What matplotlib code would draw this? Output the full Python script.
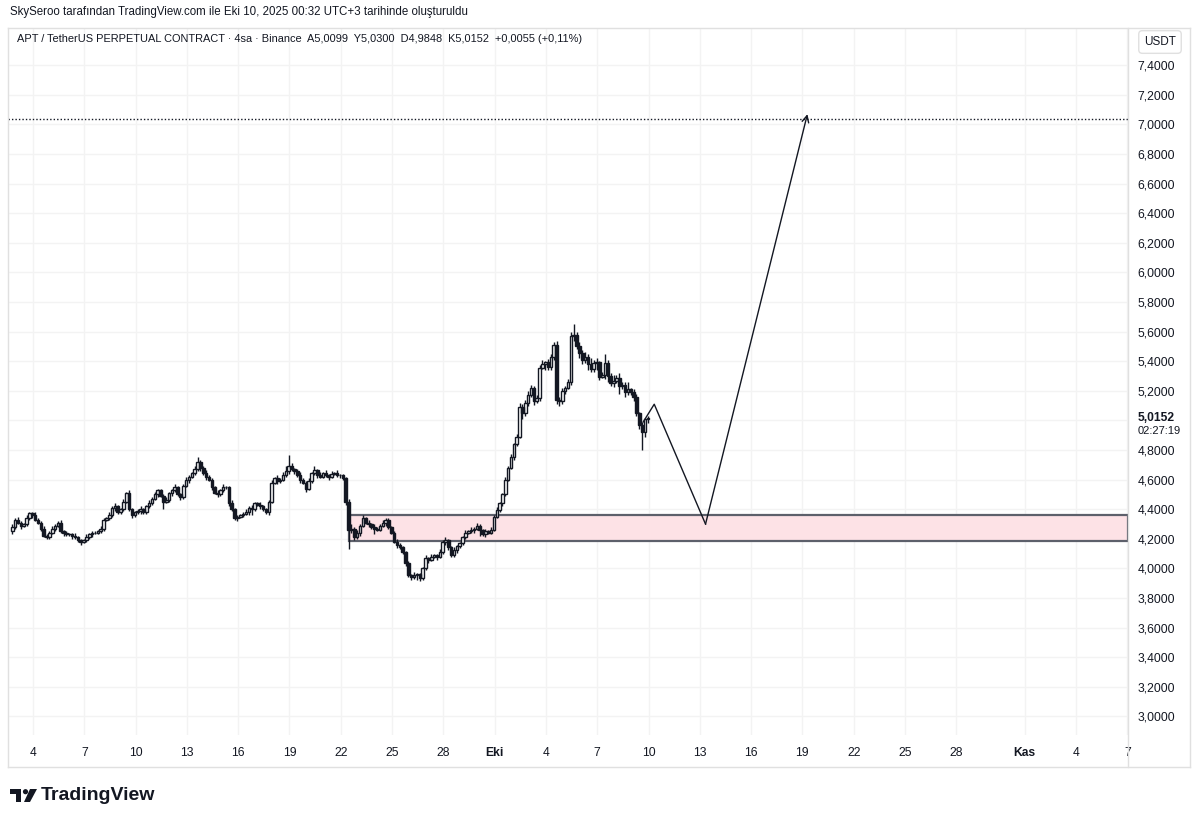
import numpy as np
import pandas as pd
import matplotlib
matplotlib.use("Agg")
import matplotlib.pyplot as plt
import matplotlib.dates as mdates
from matplotlib.patches import Rectangle, Circle, Polygon

plt.rcParams["font.family"] = ["Liberation Sans", "DejaVu Sans"]

# APT/USDT perp, 4sa mumlar (UTC+3 acilis saatleri)
start = "2025-09-02 19:00"
first_open = 4.25
closes = [
    4.28, 4.33, 4.31, 4.29, 4.30, 4.34, 4.375, 4.36, 4.33, 4.31,
    4.27, 4.22, 4.21, 4.24, 4.27, 4.29, 4.31, 4.25, 4.24, 4.23,
    4.23, 4.22, 4.21, 4.19, 4.18, 4.19, 4.21, 4.23, 4.24, 4.24,
    4.25, 4.27, 4.33, 4.34, 4.36, 4.41, 4.42, 4.38, 4.40, 4.45,
    4.51, 4.40, 4.36, 4.38, 4.39, 4.40, 4.38, 4.42, 4.44, 4.47,
    4.50, 4.53, 4.49, 4.45, 4.46, 4.51, 4.53, 4.55, 4.50, 4.48,
    4.56, 4.60, 4.62, 4.645, 4.67, 4.72, 4.68, 4.645, 4.62, 4.60,
    4.55, 4.51, 4.50, 4.53, 4.55, 4.55, 4.44, 4.40, 4.34, 4.35,
    4.36, 4.37, 4.38, 4.41, 4.40, 4.44, 4.43, 4.42, 4.40, 4.38,
    4.45, 4.58, 4.61, 4.59, 4.60, 4.63, 4.66, 4.69, 4.67, 4.66,
    4.63, 4.60, 4.58, 4.54, 4.59, 4.645, 4.665, 4.63, 4.62, 4.645,
    4.63, 4.62, 4.64, 4.645, 4.63, 4.63, 4.61, 4.45, 4.26, 4.27,
    4.21, 4.24, 4.29, 4.34, 4.31, 4.30, 4.28, 4.27, 4.26, 4.29,
    4.31, 4.33, 4.28, 4.24, 4.18, 4.16, 4.145, 4.11, 4.04, 3.955,
    3.94, 3.955, 3.96, 3.935, 4.00, 4.07, 4.06, 4.08, 4.09, 4.08,
    4.11, 4.18, 4.19, 4.145, 4.09, 4.125, 4.15, 4.17, 4.21, 4.24,
    4.25, 4.26, 4.27, 4.29, 4.26, 4.23, 4.25, 4.24, 4.26, 4.35,
    4.395, 4.44, 4.50, 4.60, 4.68, 4.755, 4.84, 4.89, 5.09, 5.05,
    5.12, 5.17, 5.22, 5.135, 5.15, 5.355, 5.38, 5.395, 5.36, 5.43,
    5.51, 5.14, 5.13, 5.20, 5.22, 5.26, 5.57, 5.58, 5.50, 5.455,
    5.41, 5.43, 5.38, 5.345, 5.39, 5.395, 5.295, 5.31, 5.39, 5.30,
    5.255, 5.27, 5.29, 5.23, 5.24, 5.19, 5.21, 5.19, 5.16, 5.05,
    4.97, 4.92, 5.0099, 5.0152,
]
# fitil boylari (sent)
wick_up = [
    2, 1, 2, 1, 1, 2, 1, 1, 2, 1,
    1, 2, 1, 1, 2, 1, 1, 2, 1, 1,
    1, 1, 2, 1, 1, 1, 2, 1, 1, 1,
    1, 2, 1, 1, 2, 1, 2, 1, 1, 2,
    1, 2, 1, 1, 1, 2, 1, 1, 2, 1,
    2, 1, 1, 1, 2, 1, 1, 2, 1, 1,
    1, 2, 1, 1, 2, 3, 1, 1, 2, 1,
    1, 1, 2, 1, 2, 1, 1, 2, 1, 1,
    1, 1, 2, 1, 2, 1, 1, 2, 1, 1,
    1, 2, 1, 2, 1, 2, 3, 8, 2, 1,
    1, 2, 1, 1, 2, 1, 3, 1, 2, 1,
    2, 1, 2, 1, 2, 1, 1, 1, 2, 3,
    1, 2, 1, 2, 1, 2, 1, 2, 1, 1,
    2, 1, 1, 1, 1, 2, 1, 1, 1, 1,
    1, 2, 1, 1, 1, 2, 1, 2, 1, 1,
    2, 1, 2, 1, 1, 2, 1, 1, 1, 2,
    1, 2, 1, 2, 1, 1, 2, 1, 2, 1,
    2, 1, 1, 2, 1, 2, 1, 2, 3, 2,
    2, 3, 2, 1, 2, 2, 3, 1, 2, 2,
    2, 3, 2, 2, 1, 2, 3, 7, 2, 3,
    2, 3, 2, 4, 2, 3, 1, 2, 6, 2,
    2, 4, 2, 3, 2, 2, 5, 1, 2, 2,
    1, 2, 1, 1.48,
]
wick_dn = [
    2, 1, 1, 2, 1, 1, 1, 2, 1, 1,
    2, 1, 1, 1, 1, 2, 1, 1, 2, 1,
    1, 2, 1, 1, 2, 1, 1, 1, 2, 1,
    1, 1, 2, 1, 1, 1, 2, 1, 1, 1,
    1, 1, 2, 1, 1, 2, 1, 1, 1, 1,
    1, 2, 1, 5, 1, 1, 2, 1, 1, 2,
    1, 1, 2, 1, 1, 1, 2, 1, 2, 1,
    2, 1, 2, 1, 1, 1, 2, 1, 1, 2,
    1, 1, 1, 2, 4, 1, 1, 2, 1, 1,
    2, 1, 1, 2, 1, 1, 1, 2, 1, 2,
    1, 2, 1, 2, 1, 1, 1, 2, 1, 1,
    1, 2, 1, 1, 1, 2, 1, 2, 13, 2,
    2, 1, 2, 1, 1, 2, 1, 4, 1, 1,
    1, 2, 1, 1, 1, 2, 1, 1, 2, 1,
    2, 1, 3, 2, 1, 1, 2, 1, 1, 2,
    1, 1, 2, 2, 1, 1, 2, 1, 1, 1,
    1, 1, 2, 1, 4, 1, 2, 1, 1, 1,
    1, 1, 2, 1, 1, 1, 2, 1, 1, 4,
    2, 2, 1, 3, 2, 2, 1, 4, 2, 2,
    2, 3, 3, 2, 2, 1, 2, 3, 2, 3,
    3, 2, 4, 2, 2, 5, 2, 1, 3, 4,
    2, 3, 2, 5, 2, 3, 2, 2, 3, 2,
    3, 12, 3, 2.51,
]

# cizimler
zone_start = "2025-09-22 11:30"
zone_low, zone_high = 4.188, 4.361
target_level = 7.034
path_times = ["2025-10-09 16:30", "2025-10-10 08:00", "2025-10-13 08:00", "2025-10-19 07:00"]
path_prices = [4.99, 5.11, 4.30, 7.07]

tick_dates = ["2025-09-04", "2025-09-07", "2025-09-10", "2025-09-13", "2025-09-16",
              "2025-09-19", "2025-09-22", "2025-09-25", "2025-09-28", "2025-10-01",
              "2025-10-04", "2025-10-07", "2025-10-10", "2025-10-13", "2025-10-16",
              "2025-10-19", "2025-10-22", "2025-10-25", "2025-10-28", "2025-11-01",
              "2025-11-04", "2025-11-07"]
tick_labels = ["4", "7", "10", "13", "16", "19", "22", "25", "28", "Eki",
               "4", "7", "10", "13", "16", "19", "22", "25", "28", "Kas", "4", "7"]

times = pd.date_range(start, periods=len(closes), freq="4h")
x = mdates.date2num(times)
c = np.array(closes)
o = np.r_[first_open, c[:-1]]
hi = np.maximum(o, c) + np.array(wick_up) / 100
lo = np.minimum(o, c) - np.array(wick_dn) / 100
up = c >= o

W, H = 1200, 823
fig = plt.figure(figsize=(W / 100, H / 100), dpi=100)
ax = fig.add_axes([8 / W, 1 - 735 / H, 1120 / W, 707 / H])

x_left = mdates.date2num(pd.Timestamp("2025-09-02 12:55"))
x_right = mdates.date2num(pd.Timestamp("2025-11-07 01:00"))
ax.set_xlim(x_left, x_right)
ax.set_ylim(2.875, 7.652)

ink = "#131722"
grid = "#f3f3f3"

# grid
yt = np.round(np.arange(3.0, 7.41, 0.2), 1)
ax.set_yticks(yt)
ax.set_yticklabels(["" if abs(v - 5.0) < 1e-9 else f"{v:.4f}".replace(".", ",") for v in yt])
ax.set_xticks(mdates.date2num(pd.to_datetime(tick_dates)))
ax.set_xticklabels(tick_labels)
for lab in ax.get_xticklabels():
    if lab.get_text() in ("Eki", "Kas"):
        lab.set_fontweight("bold")
ax.grid(True, color=grid, lw=1, zorder=0)
ax.set_axisbelow(True)
ax.yaxis.tick_right()
ax.tick_params(axis="y", length=0, pad=7, labelsize=8.7, labelcolor=ink)
ax.tick_params(axis="x", length=0, pad=9, labelsize=8.7, labelcolor=ink)
for s in ax.spines.values():
    s.set_visible(False)

# zone
zs = mdates.date2num(pd.Timestamp(zone_start))
ax.add_patch(Rectangle((zs, zone_low), x_right - zs, zone_high - zone_low,
                       facecolor="#fde2e6", edgecolor="#5d606b", lw=1.6, zorder=1))

# target level
ax.axhline(target_level, color=ink, ls=(0, (1, 1.5)), lw=1, zorder=2)

# candles
ax.vlines(x, lo, hi, color=ink, lw=1.0, zorder=3)
bw = 0.15
body = np.where(np.abs(c - o) < 0.003, 0.003, c - o)
ax.bar(x[up], body[up], bottom=o[up], width=bw, facecolor="white",
       edgecolor=ink, lw=1.0, zorder=4)
ax.bar(x[~up], body[~up], bottom=o[~up], width=bw, facecolor=ink,
       edgecolor=ink, lw=1.0, zorder=4)

# projected path
px = mdates.date2num(pd.to_datetime(path_times))
ax.plot(px[:3], path_prices[:3], color=ink, lw=1, zorder=5)
ax.annotate("", xy=(px[3], path_prices[3]), xytext=(px[2], path_prices[2]),
            arrowprops=dict(arrowstyle="->", color=ink, lw=1, shrinkA=0, shrinkB=0,
                            mutation_scale=12), zorder=5)

# last price label
ax.annotate("5,0152", xy=(1, 5.0152), xycoords=("axes fraction", "data"),
            xytext=(7, 0), textcoords="offset points", va="center", ha="left",
            fontsize=8.7, fontweight="bold", color=ink)
ax.annotate("02:27:19", xy=(1, 5.0152), xycoords=("axes fraction", "data"),
            xytext=(7, -9), textcoords="offset points", va="center", ha="left",
            fontsize=8, color=ink)

# frame lines
frame = "#e0e0e0"
def fx(px_):
    return px_ / W
def fy(py_):
    return 1 - py_ / H
fig.add_artist(plt.Line2D([fx(1128), fx(1128)], [fy(28), fy(767)], color=frame, lw=1))
fig.add_artist(plt.Line2D([fx(8), fx(1190)], [fy(767), fy(767)], color=frame, lw=1))
fig.add_artist(plt.Line2D([fx(1190), fx(1190)], [fy(28), fy(767)], color=frame, lw=1))
fig.add_artist(plt.Line2D([fx(8), fx(1190)], [fy(28), fy(28)], color=frame, lw=1))
fig.add_artist(plt.Line2D([fx(8), fx(8)], [fy(28), fy(767)], color=frame, lw=1))

# USDT box
fig.text(fx(1160), fy(42), "USDT", ha="center", va="center", fontsize=8.5, color=ink,
         bbox=dict(boxstyle="round,pad=0.45,rounding_size=0.3", fc="white", ec=frame, lw=1))

# header texts
fig.text(fx(10), fy(12), "SkySeroo tarafından TradingView.com ile Eki 10, 2025 00:32 UTC+3 tarihinde oluşturuldu",
         ha="left", va="center", fontsize=8.3, color=ink)
fig.text(fx(17), fy(39),
         "APT / TetherUS PERPETUAL CONTRACT · 4sa · Binance  A5,0099  Y5,0300  D4,9848  K5,0152  +0,0055 (+0,11%)",
         ha="left", va="center", fontsize=7.9, color=ink)

# TradingView logo
lg = fig.add_axes([fx(10), fy(804), 28 / W, 17 / H])
lg.set_xlim(0, 28)
lg.set_ylim(0, 17)
lg.axis("off")
lg.add_patch(Polygon([(0, 15), (11, 15), (11, 2), (6, 2), (6, 10), (0, 10)], closed=True, fc=ink))
lg.add_patch(Circle((15.5, 12.3), 2.6, fc=ink))
lg.add_patch(Polygon([(20, 15), (27, 15), (20, 2), (14, 2)], closed=True, fc=ink))
fig.text(fx(41), fy(796), "TradingView", ha="left", va="center", fontsize=14,
         fontweight="bold", color=ink)

fig.savefig("out.png", dpi=100, facecolor="white")
